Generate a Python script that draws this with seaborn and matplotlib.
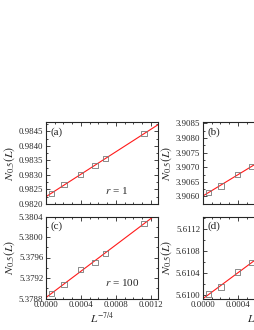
import numpy as np
import pandas as pd
import matplotlib
matplotlib.use("Agg")
import matplotlib.pyplot as plt
from matplotlib.ticker import MultipleLocator, FormatStrFormatter
import seaborn as sns

# ---- data ----
x_full = [0.00006, 0.000205, 0.00039, 0.00056, 0.00068, 0.00112]
x_part = [0.00006, 0.000205, 0.00039, 0.00056]
y_a = [0.98236, 0.98266, 0.98301, 0.98333, 0.98356, 0.98442]
y_b = [3.90614, 3.90636, 3.90675, 3.90703]
y_c = [5.37890, 5.37907, 5.37936, 5.37951, 5.37968, 5.38027]
y_d = [5.61001, 5.61014, 5.61041, 5.61058]
panel_labels = ["(a)", "(b)", "(c)", "(d)"]
r_labels = ["$r$ = 1", None, "$r$ = 100", None]
ylims = [(0.9820, 0.98482), (3.90574, 3.90855), (5.3788, 5.3804), (5.60993, 5.61142)]
ymajor = [0.0005, 0.0005, 0.0004, 0.0004]
xlim = (0.0, 0.00128)

sns.set_style("ticks")
plt.rcParams["font.family"] = ["Liberation Serif", "DejaVu Serif"]
plt.rcParams["mathtext.fontset"] = "stix"

W, H = 255, 330
fig = plt.figure(figsize=(W / 100, H / 100), dpi=100)

def frac(x0, y_top, w, h):
    return [x0 / W, 1 - (y_top + h) / H, w / W, h / H]

axes = [
    fig.add_axes(frac(46, 122, 112, 82)),
    fig.add_axes(frac(203, 122, 112, 82)),
    fig.add_axes(frac(46, 216.5, 112, 82)),
    fig.add_axes(frac(203, 216.5, 112, 82)),
]

datasets = [(x_full, y_a), (x_part, y_b), (x_full, y_c), (x_part, y_d)]

for i, (ax, (xs, ys)) in enumerate(zip(axes, datasets)):
    df = pd.DataFrame({"x": xs, "y": ys})
    ax.set_xlim(*xlim)
    ax.set_ylim(*ylims[i])
    sns.regplot(data=df, x="x", y="y", ax=ax, scatter=False, ci=None,
                truncate=False, color="#ff1a1a", line_kws={"lw": 0.8, "zorder": 2})
    sns.scatterplot(data=df, x="x", y="y", ax=ax, marker="s", s=14,
                    facecolor="none", edgecolor="#777777", linewidth=0.6, zorder=3)
    ax.set_xlim(*xlim)
    ax.set_ylim(*ylims[i])
    ax.xaxis.set_major_locator(MultipleLocator(0.0004))
    ax.xaxis.set_minor_locator(MultipleLocator(0.0001))
    ax.yaxis.set_major_locator(MultipleLocator(ymajor[i]))
    ax.yaxis.set_minor_locator(MultipleLocator(ymajor[i] / 2))
    ax.yaxis.set_major_formatter(FormatStrFormatter("%.4f"))
    ax.xaxis.set_major_formatter(FormatStrFormatter("%.4f"))
    ax.tick_params(which="both", direction="in", top=True, right=True,
                   labelsize=6.3, width=0.6, pad=2)
    ax.tick_params(which="major", length=3)
    ax.tick_params(which="minor", length=1.6)
    for sp in ax.spines.values():
        sp.set_linewidth(0.8)
        sp.set_visible(True)
    ax.set_xlabel("")
    ax.set_ylabel("$N_{0.5}(L)$", fontsize=8.6)
    ax.yaxis.set_label_coords(-0.26, 0.5)
    if i < 2:
        ax.tick_params(labelbottom=False)
    ax.text(0.04, 0.88, panel_labels[i], transform=ax.transAxes,
            fontsize=8, va="center", ha="left")
    if r_labels[i]:
        yy = 0.16 if i == 0 else 0.2
        ax.text(0.53, yy, r_labels[i], transform=ax.transAxes,
                fontsize=8, va="center", ha="left")

for ax in axes[2:]:
    ax.set_xlabel("$L^{-7/4}$", fontsize=8, labelpad=1)

fig.savefig("out.png", dpi=100)
